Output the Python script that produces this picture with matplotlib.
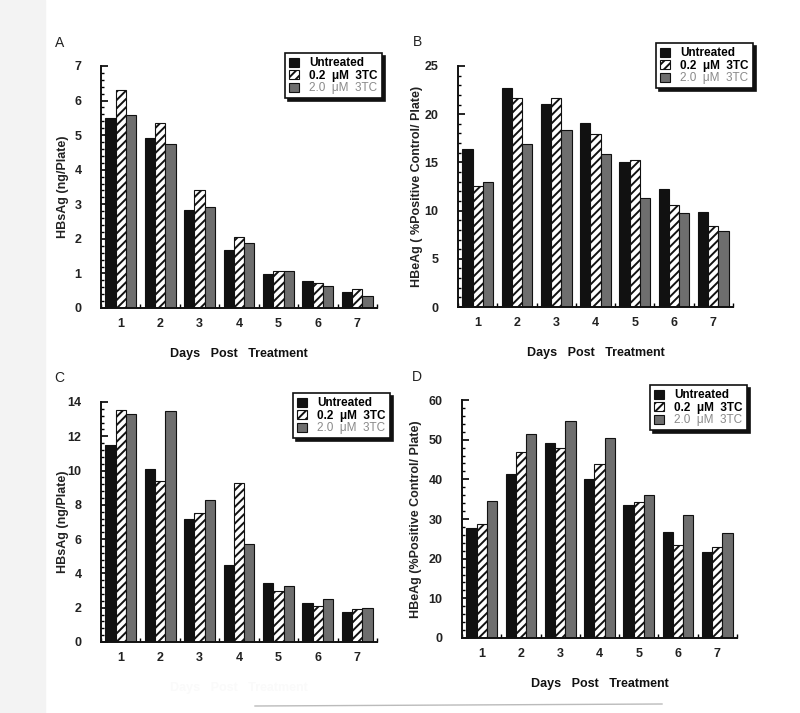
import matplotlib
matplotlib.use('Agg')
import matplotlib.pyplot as plt
import numpy as np
from matplotlib.ticker import MultipleLocator, FixedLocator
from matplotlib.patches import Rectangle

plt.rcParams['font.family'] = ['Liberation Sans', 'DejaVu Sans']
plt.rcParams['hatch.linewidth'] = 1.4

# 数据
days = [1, 2, 3, 4, 5, 6, 7]
series_labels = ['Untreated', '0.2  μM  3TC', '2.0  μM  3TC']

# A: HBsAg (ng/Plate)
a_untreated = [5.49, 4.92, 2.83, 1.69, 0.97, 0.78, 0.45]
a_low = [6.30, 5.34, 3.40, 2.06, 1.07, 0.73, 0.55]
a_high = [5.58, 4.73, 2.93, 1.88, 1.07, 0.64, 0.36]

# B: HBeAg (% positive control / plate)
b_untreated = [16.4, 22.7, 21.1, 19.1, 15.0, 12.2, 9.9]
b_low = [12.6, 21.7, 21.7, 17.9, 15.2, 10.6, 8.4]
b_high = [13.0, 16.9, 18.4, 15.9, 11.3, 9.8, 7.9]

# C: HBsAg (ng/Plate)
c_untreated = [11.5, 10.1, 7.2, 4.5, 3.45, 2.3, 1.75]
c_low = [13.55, 9.4, 7.5, 9.25, 2.95, 2.1, 1.92]
c_high = [13.3, 13.45, 8.3, 5.7, 3.28, 2.5, 2.0]

# D: HBeAg (% positive control / plate)
d_untreated = [27.8, 41.3, 49.2, 40.0, 33.6, 26.8, 21.7]
d_low = [28.8, 46.9, 47.8, 43.8, 34.3, 23.4, 22.9]
d_high = [34.6, 51.5, 54.8, 50.3, 36.0, 31.0, 26.4]

W, H = 800, 713
fig = plt.figure(figsize=(W / 100, H / 100), dpi=100)
fig.patch.set_facecolor('white')

# 扫描件的灰色边
fig.patches.append(Rectangle((0, 0), 45 / W, 1, transform=fig.transFigure,
                             color='#f3f3f3', zorder=0))
fig.add_artist(plt.Line2D([255 / W, 662 / W], [1 - 706 / H, 1 - 704 / H],
                          transform=fig.transFigure, color='#bbbbbb', lw=1))


def px_box(l, r, t, b):
    return [l / W, 1 - b / H, (r - l) / W, (b - t) / H]


panels = [
    dict(box=px_box(101, 377, 66, 308), letter='A', lpos=(60, 43),
         data=(a_untreated, a_low, a_high), ymax=7, major=1, minor=0.2,
         ylabel='HBsAg (ng/Plate)', ylx=63, leg=(382, 53),
         xlabel_color='#111111'),
    dict(box=px_box(458, 733, 66, 307), letter='B', lpos=(417, 42),
         data=(b_untreated, b_low, b_high), ymax=25, major=5, minor=1,
         ylabel='HBeAg ( %Positive Control/ Plate)', ylx=417, leg=(753, 43),
         xlabel_color='#111111'),
    dict(box=px_box(101, 377, 402, 642), letter='C', lpos=(59, 378),
         data=(c_untreated, c_low, c_high), ymax=14, major=2, minor=0.4,
         ylabel='HBsAg (ng/Plate)', ylx=63, leg=(390, 393),
         xlabel_color='#fafafa'),
    dict(box=px_box(462, 737, 400, 638), letter='D', lpos=(417, 377),
         data=(d_untreated, d_low, d_high), ymax=60, major=10, minor=2,
         ylabel='HBeAg (%Positive Control/ Plate)', ylx=416, leg=(747, 385),
         xlabel_color='#111111'),
]

bar_w = 0.26
colors = ['#111111', 'white', '#6e6e6e']
hatches = [None, '////', None]
x = np.array(days)

for p in panels:
    ax = fig.add_axes(p['box'])
    for i, vals in enumerate(p['data']):
        ax.bar(x + (i - 1) * bar_w, vals, bar_w, color=colors[i],
               edgecolor='#111111', linewidth=0.8, hatch=hatches[i],
               label=series_labels[i], zorder=2)

    ax.set_xlim(0.5, 7.5)
    ax.set_ylim(0, p['ymax'])
    for s in ['top', 'right']:
        ax.spines[s].set_visible(False)
    for s in ['left', 'bottom']:
        ax.spines[s].set_linewidth(1.4)
        ax.spines[s].set_color('#111111')

    ax.yaxis.set_major_locator(MultipleLocator(p['major']))
    ax.yaxis.set_minor_locator(MultipleLocator(p['minor']))
    ax.tick_params(axis='y', which='major', direction='in', length=5,
                   width=1.2, labelsize=9, pad=14)
    ax.tick_params(axis='y', which='minor', direction='in', length=2.5,
                   width=1)
    ax.set_xticks(days)
    ax.xaxis.set_minor_locator(FixedLocator(np.arange(0.5, 7.6, 1)))
    ax.tick_params(axis='x', which='major', length=0, labelsize=9, pad=7)
    ax.tick_params(axis='x', which='minor', direction='in', length=3,
                   width=1)
    for t in ax.get_xticklabels() + ax.get_yticklabels():
        t.set_fontweight('bold')
        t.set_color('#222222')

    ax.set_xlabel('Days   Post   Treatment', fontsize=9, fontweight='bold',
                  color=p['xlabel_color'], labelpad=13)
    fig.text(p['ylx'] / W, (p['box'][1] + p['box'][3] / 2), p['ylabel'],
             rotation=90, ha='center', va='center', fontsize=9,
             fontweight='bold', color='#222222')
    fig.text(p['lpos'][0] / W, 1 - p['lpos'][1] / H, p['letter'],
             ha='center', va='center', fontsize=10, color='#222222')

    leg = ax.legend(loc='upper right',
                    bbox_to_anchor=(p['leg'][0] / W, 1 - p['leg'][1] / H),
                    bbox_transform=fig.transFigure, fontsize=8.5,
                    handlelength=0.8, handleheight=0.8, handletextpad=0.9,
                    labelspacing=0.05, borderpad=0.35, borderaxespad=0,
                    fancybox=False, framealpha=1,
                    shadow={'color': '#111111', 'alpha': 1})
    leg.get_frame().set_edgecolor('#111111')
    leg.get_frame().set_linewidth(1.2)
    texts = leg.get_texts()
    for t in texts[:2]:
        t.set_fontweight('bold')
    texts[2].set_color('#8a8a8a')

plt.savefig('out.png', dpi=100, facecolor=fig.get_facecolor())
